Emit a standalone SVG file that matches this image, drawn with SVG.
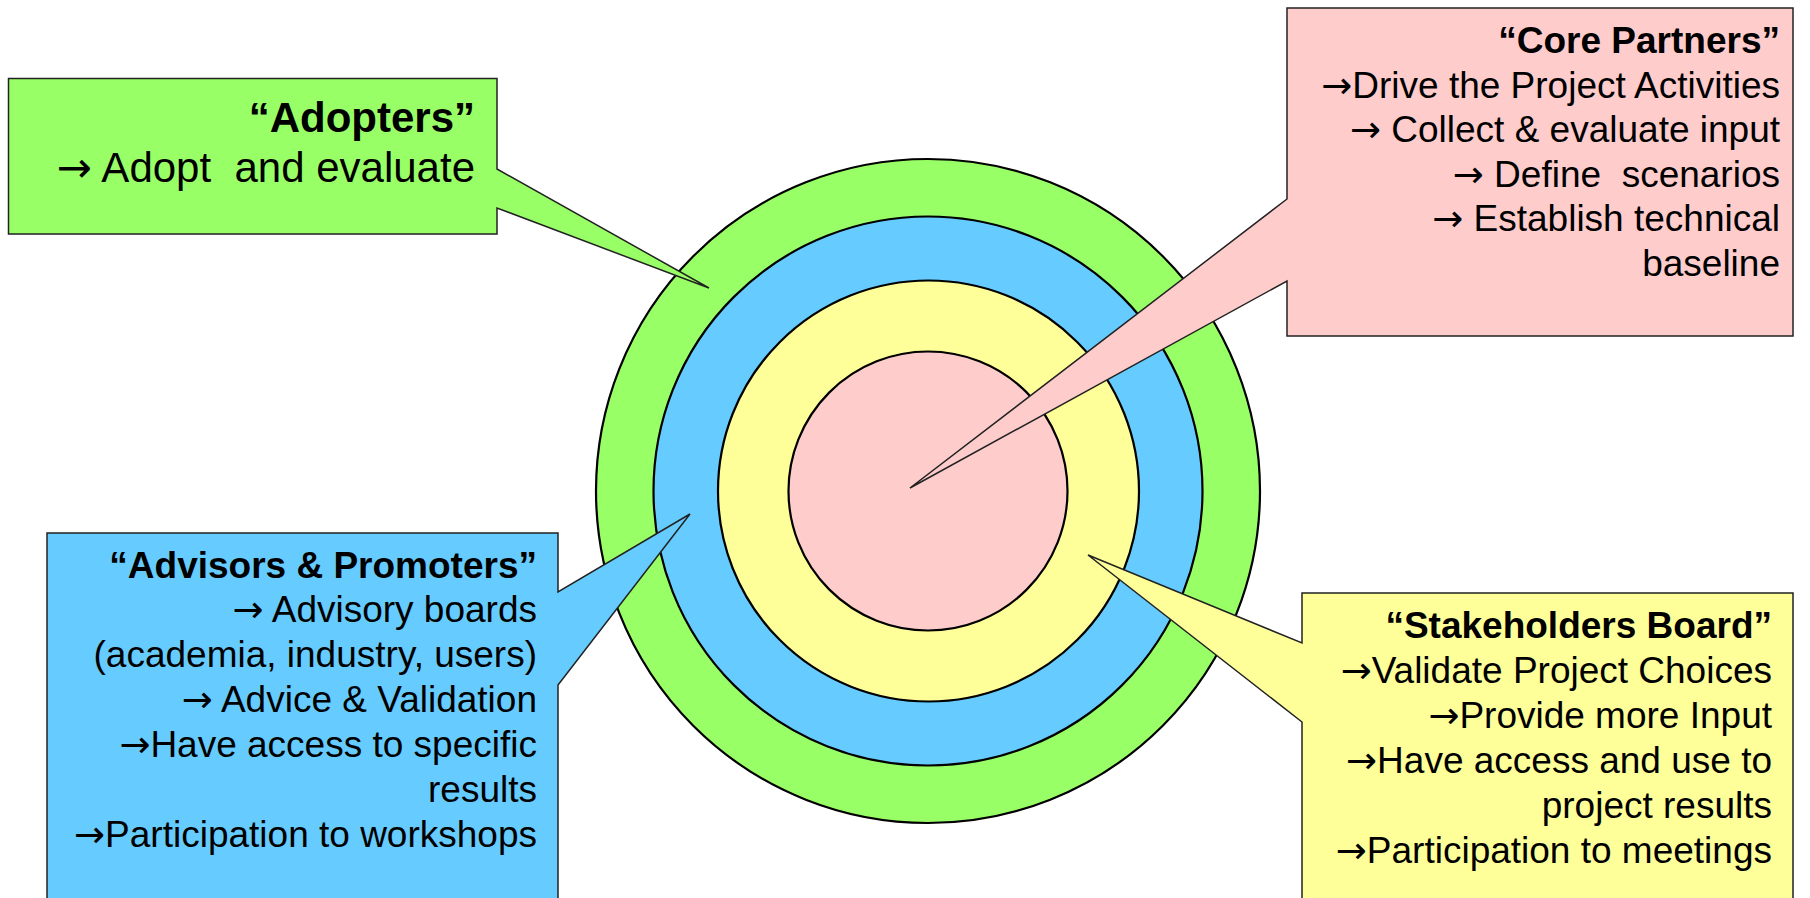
<svg xmlns="http://www.w3.org/2000/svg" width="1810" height="898" viewBox="0 0 1810 898">
<style>
.ring{stroke:#000;stroke-width:2.2}
.box{stroke:#222;stroke-width:1.5;stroke-linejoin:miter}
text{font-family:"Liberation Sans",Arial,sans-serif;fill:#000;text-anchor:end;white-space:pre}
.t{font-weight:bold}
.f37{font-size:37px}
.f42{font-size:42px}
.a{font-family:"DejaVu Sans",sans-serif}
</style>
<rect width="1810" height="898" fill="#fff"/>
<g id="rings">
<circle class="ring" cx="928" cy="491" r="332" fill="#99FF66"/>
<circle class="ring" cx="928" cy="491" r="274.5" fill="#66CCFF"/>
<circle class="ring" cx="928.5" cy="491" r="210.5" fill="#FFFF99"/>
<circle class="ring" cx="928" cy="491" r="139.5" fill="#FFCCCC"/>
</g>
<g id="adopters">
<path class="box" fill="#99FF66" d="M8.5 78.5 H497 V169 L709 288 L497 208 V234 H8.5 Z"/>
<text class="f42 t" x="475" y="131.5">“Adopters”</text>
<text class="f42" x="475" y="181.5"><tspan class="a">→</tspan> Adopt  and evaluate</text>
</g>
<g id="core-partners">
<path class="box" fill="#FFCCCC" d="M1287 8 H1793 V336 H1287 V281 L910 488 L1287 199 Z"/>
<g class="f37">
<text class="t" x="1780" y="53.3">“Core Partners”</text>
<text x="1780" y="97.5"><tspan class="a">→</tspan>Drive the Project Activities</text>
<text x="1780" y="142"><tspan class="a">→</tspan> Collect &amp; evaluate input</text>
<text x="1780" y="186.5"><tspan class="a">→</tspan> Define  scenarios</text>
<text x="1780" y="231"><tspan class="a">→</tspan> Establish technical</text>
<text x="1780" y="275.5">baseline</text>
</g>
</g>
<g id="advisors-promoters">
<path class="box" fill="#66CCFF" d="M47 910 V533 H558 V592 L690 514 L558 685 V910 Z"/>
<g class="f37">
<text class="t" x="537" y="578">“Advisors &amp; Promoters”</text>
<text x="537" y="622"><tspan class="a">→</tspan> Advisory boards</text>
<text x="537" y="667">(academia, industry, users)</text>
<text x="537" y="712"><tspan class="a">→</tspan> Advice &amp; Validation</text>
<text x="537" y="757"><tspan class="a">→</tspan>Have access to specific</text>
<text x="537" y="802">results</text>
<text x="537" y="847"><tspan class="a">→</tspan>Participation to workshops</text>
</g>
</g>
<g id="stakeholders-board">
<path class="box" fill="#FFFF99" d="M1302 910 V722 L1088 555 L1302 643 V593 H1793 V910 Z"/>
<g class="f37">
<text class="t" x="1772" y="638">“Stakeholders Board”</text>
<text x="1772" y="683"><tspan class="a">→</tspan>Validate Project Choices</text>
<text x="1772" y="728"><tspan class="a">→</tspan>Provide more Input</text>
<text x="1772" y="773"><tspan class="a">→</tspan>Have access and use to</text>
<text x="1772" y="818">project results</text>
<text x="1772" y="863"><tspan class="a">→</tspan>Participation to meetings</text>
</g>
</g>
<g id="connectors"></g>
</svg>
